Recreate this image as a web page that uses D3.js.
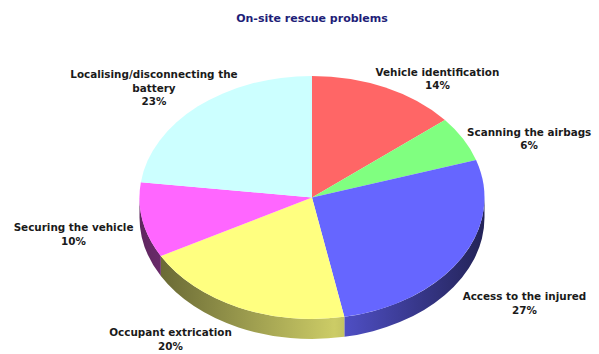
<!DOCTYPE html>
<html>
<head>
<meta charset="utf-8">
<script src="https://cdn.jsdelivr.net/npm/d3@7"></script>
<style>
  html, body { margin: 0; padding: 0; background: #ffffff; }
  svg { display: block; }
  text { font-family: "DejaVu Sans", Verdana, sans-serif; }
</style>
</head>
<body>
<svg id="chart" width="599" height="354"></svg>
<script>
// ---- data ----
const chartTitle = "On-site rescue problems";
const categories = [
  "Vehicle identification",
  "Scanning the airbags",
  "Access to the injured",
  "Occupant extrication",
  "Securing the vehicle",
  "Localising/disconnecting the battery"
];
const shares = [14, 6, 27, 20, 10, 23];
const sliceColors = ["#ff6666", "#80ff80", "#6666ff", "#ffff80", "#ff66ff", "#ccffff"];

// ---- layout ----
const W = 599, H = 354;
const cx = 312, cy = 197.5;   // centre of the top face
const rx = 172.5, ry = 121.5; // tilted ellipse radii
const depth = 20;             // height of the cylinder wall
const lineH = 13.5;
// label placement: shift from the rim point at each slice's mid angle
const labelShift = [[52, -12], [66, -3], [64, 41], [-68, 29], [-69, 11], [-44, -28]];

const svg = d3.select("#chart");
svg.append("rect").attr("width", W).attr("height", H).attr("fill", "#ffffff");

svg.append("text")
  .attr("x", cx).attr("y", 21.5)
  .attr("text-anchor", "middle")
  .attr("font-size", "11px").attr("font-weight", "bold")
  .attr("fill", "#1e1e78")
  .text(chartTitle);

const pie = d3.pie().sort(null).value(d => d)
  .startAngle(0).endAngle(2 * Math.PI);
const arcs = pie(shares);

const pt = (a, dy = 0) => [cx + rx * Math.sin(a), cy - ry * Math.cos(a) + dy];

// shading of the wall: darker towards both sides, brightest just right of centre
const defs = svg.append("defs");
const shadeStops = [[0, 0.37], [0.3, 0.6], [0.565, 0.8], [0.8, 0.55], [1, 0.34]];
sliceColors.forEach((c, i) => {
  const base = d3.rgb(c);
  const g = defs.append("linearGradient")
    .attr("id", "wall" + i)
    .attr("gradientUnits", "userSpaceOnUse")
    .attr("x1", cx - rx).attr("x2", cx + rx)
    .attr("y1", 0).attr("y2", 0);
  shadeStops.forEach(([o, f]) => {
    g.append("stop").attr("offset", o)
      .attr("stop-color", d3.rgb(base.r * f, base.g * f, base.b * f).formatHex());
  });
});

// walls of the front half (angles between 90° and 270°)
const walls = svg.append("g");
arcs.forEach((d, i) => {
  const s = Math.max(d.startAngle, Math.PI / 2);
  const e = Math.min(d.endAngle, 3 * Math.PI / 2);
  if (s >= e) return;
  const p0 = pt(s), p1 = pt(e), q1 = pt(e, depth), q0 = pt(s, depth);
  const path = `M${p0}A${rx},${ry} 0 0 1 ${p1}L${q1}A${rx},${ry} 0 0 0 ${q0}Z`;
  walls.append("path").attr("d", path).attr("fill", `url(#wall${i})`);
});

// top faces
const tops = svg.append("g");
arcs.forEach((d, i) => {
  const p0 = pt(d.startAngle), p1 = pt(d.endAngle);
  const large = d.endAngle - d.startAngle > Math.PI ? 1 : 0;
  const path = `M${cx},${cy}L${p0}A${rx},${ry} 0 ${large} 1 ${p1}Z`;
  tops.append("path").attr("d", path).attr("fill", sliceColors[i]);
});

// labels
const labels = svg.append("g")
  .attr("font-size", "10.4px").attr("font-weight", "bold")
  .attr("fill", "#1a1a1a").attr("text-anchor", "middle");
const maxW = 180;
arcs.forEach((d, i) => {
  const mid = (d.startAngle + d.endAngle) / 2;
  const [ax, ay] = pt(mid);
  const x = ax + labelShift[i][0], y = ay + labelShift[i][1];
  const t = labels.append("text").attr("x", x).attr("y", y);
  // wrap the category name to fit maxW
  const words = categories[i].split(" ");
  let lines = [], cur = "";
  const probe = t.append("tspan");
  words.forEach(w => {
    const trial = cur ? cur + " " + w : w;
    probe.text(trial);
    if (probe.node().getComputedTextLength() > maxW && cur) { lines.push(cur); cur = w; }
    else cur = trial;
  });
  lines.push(cur);
  probe.remove();
  lines.push(shares[i] + "%");
  lines.forEach((ln, k) => {
    t.append("tspan").attr("x", x).attr("y", y + k * lineH).text(ln);
  });
});
</script>
</body>
</html>
